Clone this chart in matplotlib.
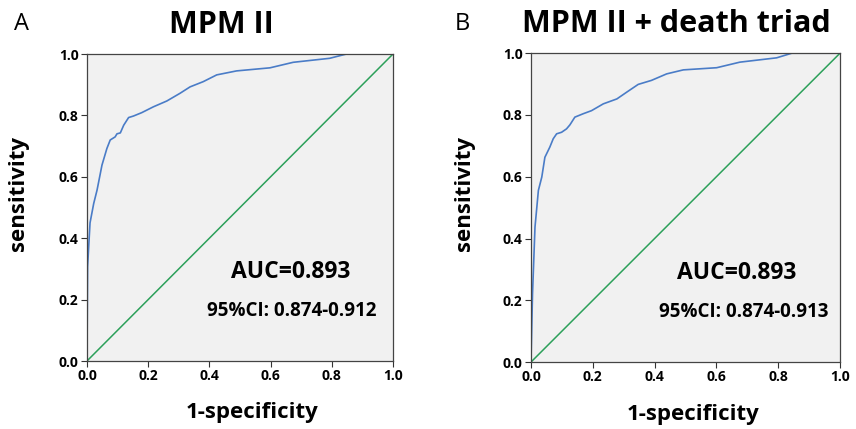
import numpy as np
import matplotlib.pyplot as plt

plt.rcParams['font.family'] = ['Open Sans', 'DejaVu Sans']

# ROC curve A: MPM II
fpr_a = [0.0, 0.002, 0.01, 0.022, 0.033, 0.049, 0.065, 0.076, 0.092, 0.098, 0.109, 0.12,
         0.136, 0.152, 0.179, 0.217, 0.261, 0.304, 0.337, 0.38, 0.424, 0.489, 0.598,
         0.674, 0.793, 0.848, 1.0]
tpr_a = [0.0, 0.307, 0.45, 0.513, 0.557, 0.638, 0.692, 0.72, 0.73, 0.74, 0.743, 0.768,
         0.793, 0.798, 0.809, 0.828, 0.847, 0.872, 0.893, 0.91, 0.932, 0.945, 0.955,
         0.973, 0.986, 1.0, 1.0]

# ROC curve B: MPM II + death triad
fpr_b = [0.0, 0.005, 0.013, 0.024, 0.035, 0.045, 0.061, 0.072, 0.083, 0.099, 0.115, 0.126,
         0.142, 0.169, 0.196, 0.234, 0.278, 0.31, 0.347, 0.39, 0.439, 0.493, 0.601,
         0.676, 0.795, 0.844, 1.0]
tpr_b = [0.0, 0.221, 0.437, 0.556, 0.599, 0.663, 0.696, 0.723, 0.739, 0.744, 0.755, 0.768,
         0.793, 0.804, 0.814, 0.836, 0.852, 0.874, 0.899, 0.912, 0.933, 0.946, 0.953,
         0.971, 0.985, 1.0, 1.0]

titles = ['MPM II', 'MPM II + death triad']
letters = ['A', 'B']
auc_text = ['AUC=0.893', 'AUC=0.893']
ci_text = ['95%CI: 0.874-0.912', '95%CI: 0.874-0.913']
ticks = [0.0, 0.2, 0.4, 0.6, 0.8, 1.0]

fig = plt.figure(figsize=(8.56, 4.29), dpi=100)
positions = [[0.1016, 0.1585, 0.3575, 0.7156], [0.6203, 0.156, 0.361, 0.72]]
curves = [(fpr_a, tpr_a), (fpr_b, tpr_b)]
title_x = [0.44, 0.47]
xlab_x = [0.54, 0.524]
ylab_x = [-0.19, -0.18]
ci_x = [0.67, 0.69]

for i in range(2):
    ax = fig.add_axes(positions[i])
    ax.set_facecolor('#f1f1f1')
    ax.plot(curves[i][0], curves[i][1], color='#4a7cc7', lw=1.2)
    ax.plot([0, 1], [0, 1], color='#2ca05a', lw=1.1)
    ax.set_xlim(0, 1)
    ax.set_ylim(0, 1)
    ax.set_xticks(ticks)
    ax.set_yticks(ticks)
    ax.set_xticklabels(['%.1f' % t for t in ticks], fontweight='bold', fontsize=10)
    ax.set_yticklabels(['%.1f' % t for t in ticks], fontweight='bold', fontsize=10)
    ax.tick_params(direction='out', length=4, width=0.8, color='#333333', pad=2)
    for s in ax.spines.values():
        s.set_color('#444444')
        s.set_linewidth(0.9)
    ax.set_xlabel('1-specificity', fontsize=16, fontweight='bold')
    ax.set_ylabel('sensitivity', fontsize=16, fontweight='bold')
    ax.xaxis.set_label_coords(xlab_x[i], -0.135)
    ax.yaxis.set_label_coords(ylab_x[i], 0.547)
    ax.set_title(titles[i], fontsize=22, fontweight='bold', pad=15, x=title_x[i])
    ax.text(0.665, 0.29, auc_text[i], fontsize=16.5, fontweight='bold',
            ha='center', va='center', transform=ax.transAxes)
    ax.text(ci_x[i], 0.163, ci_text[i], fontsize=13.5, fontweight='bold',
            ha='center', va='center', transform=ax.transAxes)

fig.text(0.025, 0.945, letters[0], fontsize=17, ha='center', va='center')
fig.text(0.54, 0.945, letters[1], fontsize=17, ha='center', va='center')

fig.savefig('out.png', dpi=100)
